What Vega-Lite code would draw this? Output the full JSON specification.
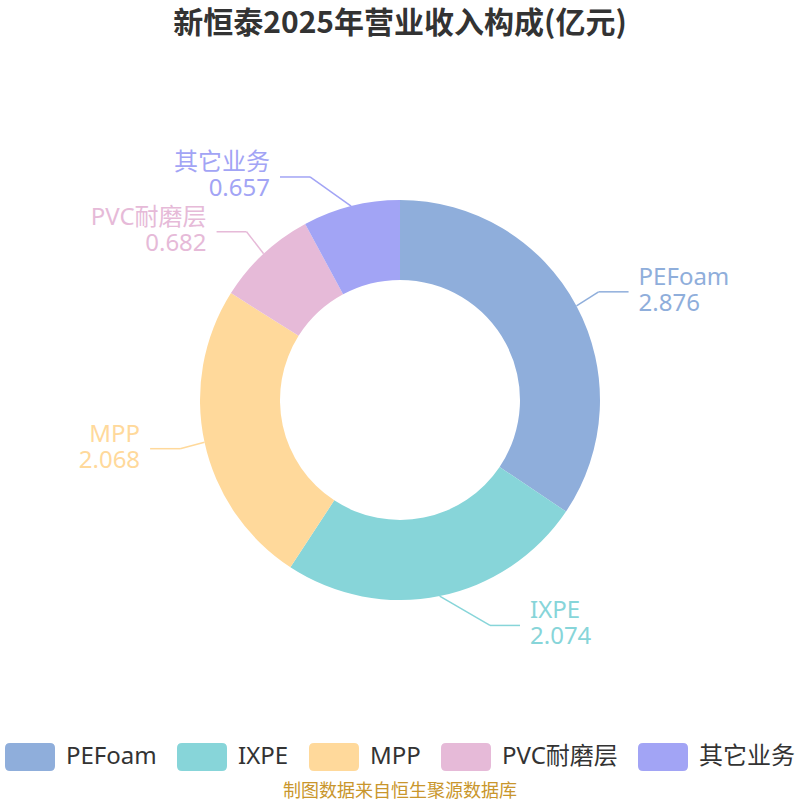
{
  "$schema": "https://vega.github.io/schema/vega-lite/v6.json",
  "width": 800,
  "height": 800,
  "autosize": {"type": "none"},
  "padding": 0,
  "background": "white",
  "title": {
    "text": "新恒泰2025年营业收入构成(亿元)",
    "font": "Noto Sans CJK SC",
    "fontSize": 30,
    "fontWeight": "bold",
    "color": "#333333",
    "anchor": "middle",
    "frame": "group",
    "baseline": "middle",
    "offset": -23,
    "dy": 31
  },
  "data": {
    "values": [
      {"name": "PEFoam", "value": 2.876, "rank": 1},
      {"name": "IXPE", "value": 2.074, "rank": 2},
      {"name": "MPP", "value": 2.068, "rank": 3},
      {"name": "PVC耐磨层", "value": 0.682, "rank": 4},
      {"name": "其它业务", "value": 0.657, "rank": 5}
    ]
  },
  "transform": [
    {"joinaggregate": [{"op": "sum", "field": "value", "as": "total"}]},
    {"window": [{"op": "sum", "field": "value", "as": "cum"}], "sort": [{"field": "rank"}], "frame": [null, 0]},
    {"calculate": "2*PI*(datum.cum - datum.value/2)/datum.total", "as": "ang"},
    {"calculate": "sin(datum.ang)", "as": "s"},
    {"calculate": "cos(datum.ang)", "as": "c"},
    {"calculate": "200*datum.s", "as": "x0"},
    {"calculate": "200*datum.c", "as": "y0"},
    {"calculate": "(datum.s >= 0 ? 1 : -1) * max(abs(225*datum.s), 90)", "as": "x1"},
    {"calculate": "230*datum.c", "as": "y1"},
    {"calculate": "datum.x1 + (datum.s >= 0 ? 30 : -30)", "as": "x2"},
    {"calculate": "[datum.name, format(datum.value, '.3f')]", "as": "label"}
  ],
  "layer": [
    {
      "mark": {"type": "arc", "innerRadius": 120, "outerRadius": 200},
      "encoding": {
        "theta": {"field": "value", "type": "quantitative", "stack": true},
        "order": {"field": "rank", "type": "quantitative"},
        "color": {
          "field": "name",
          "type": "nominal",
          "scale": {
            "domain": ["PEFoam", "IXPE", "MPP", "PVC耐磨层", "其它业务"],
            "range": ["#8FAEDB", "#87D5D9", "#FFD99B", "#E6BAD8", "#A2A4F5"]
          },
          "legend": {
            "orient": "none",
            "legendX": 5,
            "legendY": 732,
            "direction": "horizontal",
            "padding": 0,
            "title": "制图数据来自恒生聚源数据库",
            "titleOrient": "bottom",
            "titleAnchor": "middle",
            "titleColor": "#C9962C",
            "titleFont": "Noto Sans CJK SC",
            "titleFontSize": 18,
            "titleFontWeight": "normal",
            "titlePadding": 12,
            "titleLimit": 500,
            "labelFont": "Noto Sans, Noto Sans CJK SC",
            "labelFontSize": 24,
            "labelColor": "#333333",
            "labelOffset": 11,
            "labelLimit": 300,
            "columnPadding": 20,
            "symbolType": "M-0.8,-0.56L0.8,-0.56Q1,-0.56 1,-0.36L1,0.36Q1,0.56 0.8,0.56L-0.8,0.56Q-1,0.56 -1,0.36L-1,-0.36Q-1,-0.56 -0.8,-0.56Z",
            "symbolSize": 2500,
            "symbolStrokeWidth": 0,
            "symbolOpacity": 1
          }
        }
      }
    },
    {
      "mark": {"type": "rule", "strokeWidth": 1.5},
      "encoding": {
        "x": {"field": "x0", "type": "quantitative", "scale": {"domain": [-400, 400], "nice": false, "zero": false}, "axis": null},
        "y": {"field": "y0", "type": "quantitative", "scale": {"domain": [-400, 400], "nice": false, "zero": false}, "axis": null},
        "x2": {"field": "x1"},
        "y2": {"field": "y1"},
        "color": {"field": "name", "type": "nominal"}
      }
    },
    {
      "mark": {"type": "rule", "strokeWidth": 1.5},
      "encoding": {
        "x": {"field": "x1", "type": "quantitative"},
        "y": {"field": "y1", "type": "quantitative"},
        "x2": {"field": "x2"},
        "color": {"field": "name", "type": "nominal"}
      }
    },
    {
      "transform": [{"filter": "datum.s >= 0"}],
      "mark": {"type": "text", "align": "left", "baseline": "middle", "dx": 10, "dy": -14, "lineHeight": 26, "fontSize": 24, "font": "Noto Sans, Noto Sans CJK SC"},
      "encoding": {
        "x": {"field": "x2", "type": "quantitative"},
        "y": {"field": "y1", "type": "quantitative"},
        "text": {"field": "label"},
        "color": {"field": "name", "type": "nominal"}
      }
    },
    {
      "transform": [{"filter": "datum.s < 0"}],
      "mark": {"type": "text", "align": "right", "baseline": "middle", "dx": -10, "dy": -14, "lineHeight": 26, "fontSize": 24, "font": "Noto Sans, Noto Sans CJK SC"},
      "encoding": {
        "x": {"field": "x2", "type": "quantitative"},
        "y": {"field": "y1", "type": "quantitative"},
        "text": {"field": "label"},
        "color": {"field": "name", "type": "nominal"}
      }
    }
  ],
  "config": {"view": {"stroke": null}}
}
